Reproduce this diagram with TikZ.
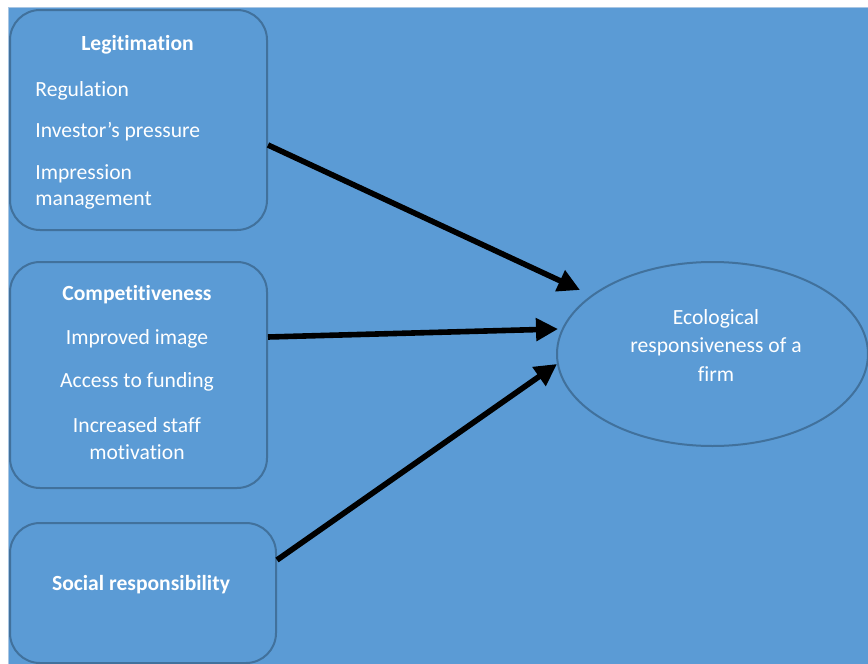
\documentclass[tikz,border=0pt]{standalone}
\usepackage{fontspec}
\setmainfont{Carlito}[Ligatures=NoCommon]
\usepackage{tikz}
\usetikzlibrary{arrows.meta,positioning,shapes.geometric}
\definecolor{bgblue}{HTML}{5B9BD5}
\definecolor{edgeblue}{HTML}{41719C}
\definecolor{rimblue}{HTML}{A9C6E3}

\begin{document}
\begin{tikzpicture}[
  x=0.5pt, y=-0.5pt,
  box/.style={draw=edgeblue, line width=1pt, fill=bgblue, rounded corners=15pt, inner sep=0pt},
  goal/.style={draw=edgeblue, line width=1pt, fill=bgblue, ellipse, inner sep=0pt},
  head/.style={font=\fontsize{10.8}{13.5}\selectfont\bfseries, text=white, inner sep=0pt, anchor=base},
  item/.style={font=\fontsize{10.8}{13.5}\selectfont, text=white, inner sep=0pt, anchor=base},
  arr/.style={-{Triangle[length=11pt,width=11pt]}, line width=2.8pt, black}
]
\useasboundingbox (0,0) rectangle (868,664);
% background
\fill[bgblue] (8,7) rectangle (868,664);
\draw[rimblue, line width=0.5pt] (8,664) -- (8,7) -- (868,7);
% boxes
\node[box, minimum width=128.5pt, minimum height=110pt] (legit) at (138.5,120) {};
\node[box, minimum width=128.5pt, minimum height=113pt] (compet) at (138.5,375) {};
\node[box, minimum width=133pt, minimum height=70pt] (social) at (143,593) {};
\node[goal, minimum width=155.5pt, minimum height=92pt] (eco) at (712.5,354) {};
% Legitimation
\node[head] (legitH) at (137.5,50) {Legitimation};
\node[item, anchor=base west] (reg) at (35,96) {Regulation};
\node[item, anchor=base west] (inv) at (35,137) {Investor’s pressure};
\node[item, anchor=base west] (imp) at (35,179) {Impression};
\node[item, anchor=base west] (mgmt) at (35,205) {management};
% Competitiveness
\node[head] (competH) at (137,300) {Competitiveness};
\node[item] (image) at (137,344) {Improved image};
\node[item] (fund) at (137,387) {Access to funding};
\node[item] (staff) at (137,432) {Increased staff};
\node[item] (motiv) at (137,459) {motivation};
% Social responsibility
\node[head] (socialH) at (141,590) {Social responsibility};
% Ecological responsiveness
\node[item] (ecoA) at (716,324) {Ecological};
\node[item] (ecoB) at (716,352.5) {responsiveness of a};
\node[item] (ecoC) at (716,381) {firm};
% arrows
\coordinate (tipA) at (580,290);
\coordinate (tipB) at (558,329);
\coordinate (tipC) at (557,364);
\draw[arr] ([yshift=-12.5pt]legit.east) -- (tipA);
\draw[arr] ([yshift=19pt]compet.east) -- (tipB);
\draw[arr] ([yshift=16.5pt]social.east) -- (tipC);
\end{tikzpicture}
\end{document}
